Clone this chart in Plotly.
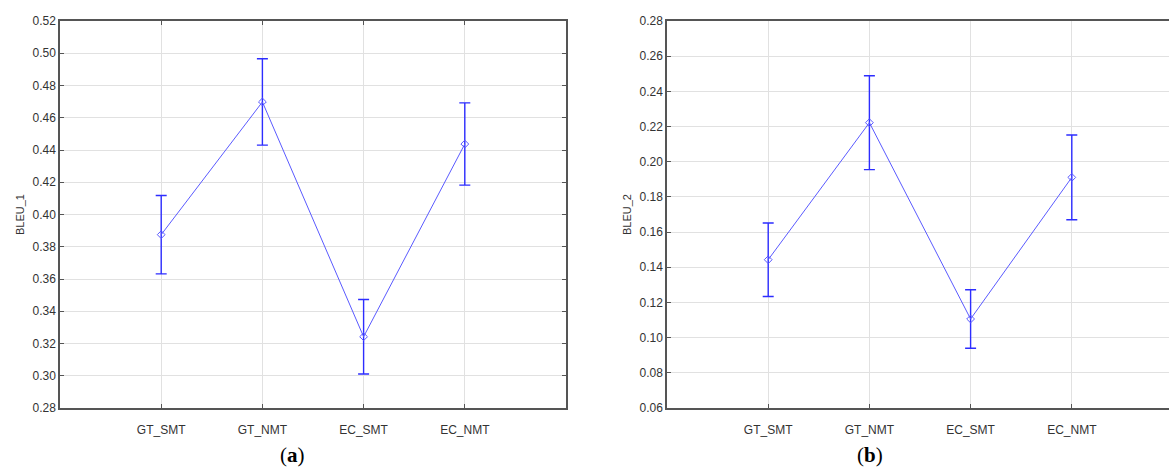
import plotly.graph_objects as go

W, H = 1169, 471

categories = ["GT_SMT", "GT_NMT", "EC_SMT", "EC_NMT"]

bleu1_mean = [0.3875, 0.4698, 0.3242, 0.4437]
bleu1_err = [0.0243, 0.0268, 0.0231, 0.0255]

bleu2_mean = [0.1443, 0.2222, 0.1106, 0.1911]
bleu2_err = [0.0209, 0.0267, 0.0166, 0.0241]

bleu1_ticks = [0.28, 0.30, 0.32, 0.34, 0.36, 0.38, 0.40, 0.42, 0.44, 0.46, 0.48, 0.50, 0.52]
bleu2_ticks = [0.06, 0.08, 0.10, 0.12, 0.14, 0.16, 0.18, 0.20, 0.22, 0.24, 0.26, 0.28]

LINE = "rgb(90,90,255)"
ERR = "rgb(45,45,255)"
GRID = "rgb(225,225,225)"
AX = "rgb(85,85,85)"
FONT = "Liberation Sans, Arial, sans-serif"

# pixel geometry
top, bottom = 21, 408
a_left, a_right = 60, 566
b_left = 667
cat_px = (a_right - a_left) / 5.0
b_right = W
b_span = (b_right - b_left) / cat_px

fig = go.Figure()


def add_series(mean, err, xa, ya):
    fig.add_trace(go.Scatter(
        x=categories, y=mean, xaxis=xa, yaxis=ya, mode="lines+markers",
        line=dict(color=LINE, width=1),
        marker=dict(symbol="diamond-open", size=6, color=LINE, line=dict(width=1, color=LINE)),
        error_y=dict(type="data", array=err, visible=True, color=ERR, thickness=1.4, width=5.5),
        showlegend=False, cliponaxis=False,
    ))


add_series(bleu1_mean, bleu1_err, "x", "y")
add_series(bleu2_mean, bleu2_err, "x2", "y2")

ydom = [1 - bottom / H, 1 - top / H]

common_x = dict(
    type="category", showgrid=True, gridcolor=GRID, gridwidth=1,
    showline=True, linecolor=AX, linewidth=1.5, ticks="inside", ticklen=4,
    tickcolor=AX, tickfont=dict(family=FONT, size=12, color="#333"),
    zeroline=False, ticklabelstandoff=10, automargin=False,
)
common_y = dict(
    showgrid=True, gridcolor=GRID, gridwidth=1, showline=True, linecolor=AX,
    linewidth=1.5, ticks="inside", ticklen=4, tickcolor=AX,
    tickfont=dict(family=FONT, size=12, color="#333"), zeroline=False,
    tickformat=".2f", automargin=False,
)

fig.update_layout(
    width=W, height=H, margin=dict(l=0, r=0, t=0, b=0, pad=0), autosize=False,
    paper_bgcolor="white", plot_bgcolor="white",
    xaxis=dict(common_x, domain=[a_left / W, a_right / W], range=[-1, 4], mirror="ticks", anchor="y"),
    yaxis=dict(common_y, domain=ydom, range=[0.28, 0.52], tickvals=bleu1_ticks, mirror="ticks",
               anchor="x",
               title=dict(text="BLEU_1", font=dict(family=FONT, size=11, color="#333"), standoff=6)),
    xaxis2=dict(common_x, domain=[b_left / W, 1.0], range=[-1, -1 + b_span], mirror=True, anchor="y2"),
    yaxis2=dict(common_y, domain=ydom, range=[0.06, 0.28], tickvals=bleu2_ticks, mirror=False,
                anchor="x2",
                title=dict(text="BLEU_2", font=dict(family=FONT, size=11, color="#333"), standoff=6)),
    annotations=[
        dict(text="(<b>a</b>)", x=292 / W, y=1 - 455 / H, xref="paper", yref="paper",
             xanchor="center", yanchor="middle",
             showarrow=False, font=dict(family="Liberation Serif, serif", size=21, color="black")),
        dict(text="(<b>b</b>)", x=870 / W, y=1 - 455 / H, xref="paper", yref="paper",
             xanchor="center", yanchor="middle",
             showarrow=False, font=dict(family="Liberation Serif, serif", size=21, color="black")),
    ],
)

fig.write_html("out.html")
